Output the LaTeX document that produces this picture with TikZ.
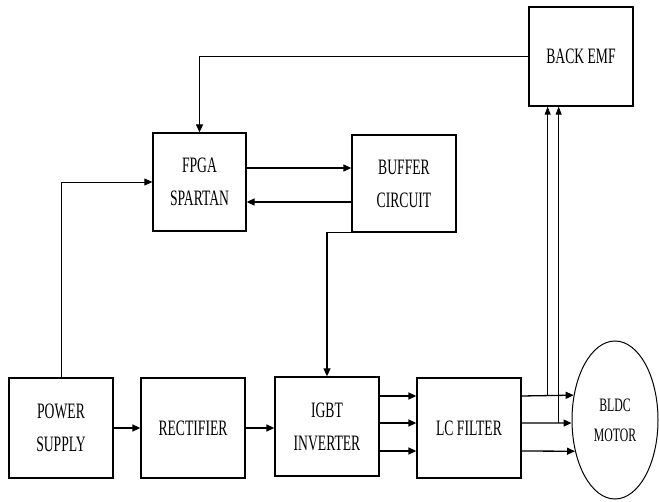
\documentclass[tikz,border=0pt]{standalone}
\usepackage{fontspec}
\setmainfont{Liberation Serif}[FakeStretch=0.62]
\usetikzlibrary{arrows.meta,calc,shapes.geometric}
\begin{document}
\begin{tikzpicture}[x=1pt,y=-1pt,
  blk/.style={draw,line width=1.3pt,minimum width=104pt,minimum height=99pt,align=center,inner sep=0pt,
    font=\fontsize{22}{33}\selectfont},
  conn/.style={line width=1.3pt,-{Triangle[length=8pt,width=7pt]}},
  thin/.style={line width=0.8pt},
  thinarr/.style={line width=0.8pt,-{Triangle[length=8pt,width=6pt]}}]
\useasboundingbox (0,0) rectangle (659,502);
\node[blk] (backemf) at (581,56.5) {BACK EMF};
\node[blk,minimum width=93pt,minimum height=98pt] (fpga) at (199.5,182) {FPGA\\SPARTAN};
\node[blk,minimum height=97pt] (buffer) at (404,183.5) {BUFFER\\CIRCUIT};
\node[blk,minimum height=100pt] (ps) at (61,428) {POWER\\SUPPLY};
\node[blk,minimum height=100pt] (rect) at (193,428) {RECTIFIER};
\node[blk,minimum height=99pt] (igbt) at (327,426.5) {IGBT\\INVERTER};
\node[blk,minimum height=100pt] (lc) at (469,428) {LC FILTER};
\node[draw,ellipse,line width=1pt,minimum width=86pt,minimum height=158pt,inner sep=0pt,
  font=\fontsize{19}{30}\selectfont,align=center] (motor) at (615,420) {BLDC\\MOTOR};
% feedback and control
\draw[conn] (backemf.west) -| (fpga.north);
\draw[thin,-{Triangle[length=8pt,width=7pt]}] (ps.north) |- (fpga.west);
\draw[conn] ($(fpga.east)+(0,-14)$) -- ($(buffer.west)+(0,-15.5)$);
\draw[conn] ($(buffer.west)+(0,18.5)$) -- ($(fpga.east)+(0,20)$);
\draw[conn] (buffer.south west) -| (igbt.north);
% power chain
\draw[conn] (ps.east) -- (rect.west);
\draw[conn] (rect.east) -- (igbt.west |- rect.east);
\draw[conn] ($(igbt.east)+(0,-30.5)$) -- ($(lc.west)+(0,-32)$);
\draw[conn] ($(igbt.east)+(0,-3.5)$) -- ($(lc.west)+(0,-5)$);
\draw[conn] ($(igbt.east)+(0,24.5)$) -- ($(lc.west)+(0,23)$);
\coordinate (o1) at ($(lc.east)+(0,-32)$);
\coordinate (o2) at ($(lc.east)+(0,-5)$);
\coordinate (o3) at ($(lc.east)+(0,23)$);
\draw[conn] (o1) -- (motor.149.5);
\draw[conn] (o2) -- (motor.184);
\draw[conn] (o3) -- (motor.218);
% back emf sensing
\coordinate (j1) at ($(o1)+(26,0)$);
\coordinate (j2) at ($(o2)+(37,0)$);
\draw[thinarr] (j1) -- (j1 |- backemf.south);
\draw[thinarr] (j2) -- (j2 |- backemf.south);
\end{tikzpicture}
\end{document}
